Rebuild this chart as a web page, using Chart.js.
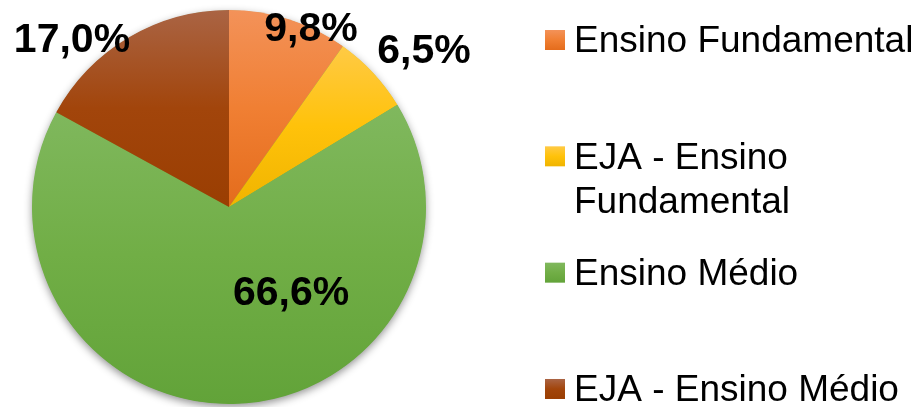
<!DOCTYPE html>
<html><head><meta charset="utf-8">
<script src="https://cdn.jsdelivr.net/npm/chart.js@4"></script>
<style>html,body{margin:0;padding:0;background:#fff;overflow:hidden;} #wrap{width:919px;height:407px;position:relative;}</style>
</head><body><div id="wrap"><canvas id="c" width="919" height="407"></canvas></div>
<script>
// ---- data ----
const categories = ['Ensino Fundamental', 'EJA - Ensino Fundamental', 'Ensino Médio', 'EJA - Ensino Médio'];
const values = [9.8, 6.5, 66.6, 17.0];
const valueLabels = ['9,8%', '6,5%', '66,6%', '17,0%'];

// ---- styles ----
const gradStops = [
  ['#F39259', '#F07F33', '#E46C1C'],
  ['#FFCA45', '#FFC20A', '#F0B400'],
  ['#80B85E', '#71AE46', '#62A339'],
  ['#AA6444', '#A2450B', '#9A3E02']
];
// label anchors relative to pie centre, in units of radius
const labelOffsets = [[0.416, -0.919], [0.990, -0.807], [0.315, 0.421], [-0.797, -0.863]];
const FONT = '"Liberation Sans", Arial, Helvetica, sans-serif';

function sliceGradient(ctx) {
  const chart = ctx.chart, area = chart.chartArea, i = ctx.dataIndex;
  const stops = gradStops[i];
  if (!area || ctx.type !== 'data') return stops[1];
  const cx = (area.left + area.right) / 2, cy = (area.top + area.bottom) / 2;
  const r = Math.min(area.right - area.left, area.bottom - area.top) / 2;
  const total = values.reduce((a, b) => a + b, 0);
  let cum = 0; for (let k = 0; k < i; k++) cum += values[k];
  const a0 = -Math.PI / 2 + cum / total * 2 * Math.PI;
  const a1 = a0 + values[i] / total * 2 * Math.PI;
  const ys = [cy, cy + r * Math.sin(a0), cy + r * Math.sin(a1)];
  for (const ext of [-Math.PI / 2, Math.PI / 2, 3 * Math.PI / 2]) if (ext > a0 && ext < a1) ys.push(cy + r * Math.sin(ext));
  const top = Math.min(...ys), bot = Math.max(...ys);
  const g = chart.ctx.createLinearGradient(0, top, 0, bot);
  g.addColorStop(0, stops[0]); g.addColorStop(0.5, stops[1]); g.addColorStop(1, stops[2]);
  return g;
}

const shadowPlugin = {
  id: 'pieShadow',
  beforeDatasetsDraw(chart) {
    const arc = chart.getDatasetMeta(0).data[0];
    const c = chart.ctx;
    c.save();
    c.shadowColor = 'rgba(0,0,0,0.45)';
    c.shadowBlur = 9;
    c.shadowOffsetY = 3;
    c.beginPath();
    c.arc(arc.x, arc.y, arc.outerRadius - 0.5, 0, Math.PI * 2);
    c.fillStyle = '#70AD47';
    c.fill();
    c.restore();
  }
};

const labelPlugin = {
  id: 'valueLabels',
  afterDatasetsDraw(chart) {
    const arcs = chart.getDatasetMeta(0).data;
    const c = chart.ctx;
    c.save();
    const fs = 41;
    c.font = 'bold ' + fs + 'px ' + FONT;
    c.fillStyle = '#000';
    c.textAlign = 'center';
    c.textBaseline = 'alphabetic';
    arcs.forEach((arc, i) => {
      const R = arc.outerRadius;
      const x = arc.x + labelOffsets[i][0] * R;
      const y = arc.y + labelOffsets[i][1] * R;
      c.fillText(valueLabels[i], x, y + 0.358 * fs);
    });
    c.restore();
  }
};

const legendPlugin = {
  id: 'customLegend',
  afterDraw(chart) {
    const c = chart.ctx;
    const fs = 37, boxX = 545, box = 20, textX = 574, firstY = 40, step = 116.33, lineH = 44, maxW = 350;
    c.save();
    c.font = fs + 'px ' + FONT;
    c.fillStyle = '#000';
    c.textAlign = 'left';
    c.textBaseline = 'alphabetic';
    categories.forEach((lab, i) => {
      const cy = firstY + i * step;
      const g = c.createLinearGradient(0, cy - box / 2, 0, cy + box / 2);
      g.addColorStop(0, gradStops[i][0]); g.addColorStop(0.5, gradStops[i][1]); g.addColorStop(1, gradStops[i][2]);
      c.fillStyle = g;
      c.fillRect(boxX, cy - box / 2, box, box);
      // wrap words
      const words = lab.split(' ');
      const lines = []; let cur = '';
      words.forEach(w => {
        const t = cur ? cur + ' ' + w : w;
        if (c.measureText(t).width > maxW && cur) { lines.push(cur); cur = w; } else cur = t;
      });
      if (cur) lines.push(cur);
      c.fillStyle = '#000';
      lines.forEach((ln, k) => c.fillText(ln, textX, cy + 0.33 * fs + k * lineH));
    });
    c.restore();
  }
};

new Chart(document.getElementById('c'), {
  type: 'pie',
  data: {
    labels: categories,
    datasets: [{
      data: values,
      backgroundColor: sliceGradient,
      borderWidth: 0
    }]
  },
  options: {
    responsive: false,
    devicePixelRatio: 1,
    animation: false,
    layout: { padding: { left: 32, right: 493, top: 10, bottom: 3 } },
    plugins: { legend: { display: false }, tooltip: { enabled: false } }
  },
  plugins: [shadowPlugin, labelPlugin, legendPlugin]
});
</script>
</body></html>
